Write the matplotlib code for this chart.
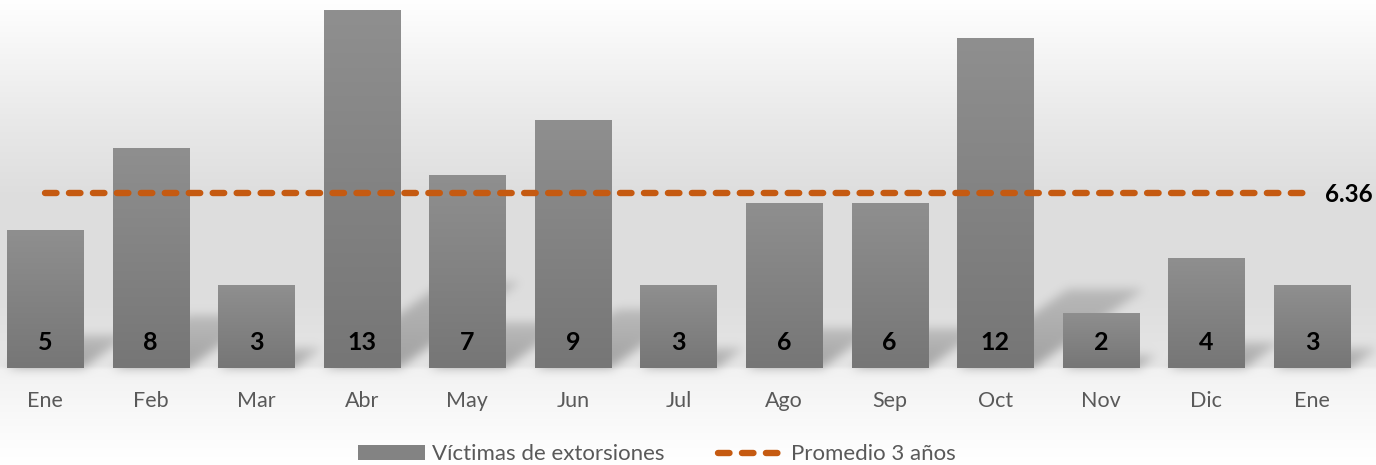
import numpy as np
import matplotlib
matplotlib.use("Agg")
import matplotlib.pyplot as plt
from matplotlib.path import Path
from matplotlib.lines import Line2D
from matplotlib.patches import Patch
from matplotlib.colors import LinearSegmentedColormap

# fuente parecida a Calibri
plt.rcParams['font.family'] = ['Lato', 'DejaVu Sans']

meses = ["Ene", "Feb", "Mar", "Abr", "May", "Jun", "Jul", "Ago", "Sep", "Oct", "Nov", "Dic", "Ene"]
victimas = [5, 8, 3, 13, 7, 9, 3, 6, 6, 12, 2, 4, 3]
promedio = 6.36

NARANJA = '#c55a11'
GRIS_TXT = '#595959'
RAYAS = (1.8, 1.95)

W, H = 1376, 465
fig = plt.figure(figsize=(W / 100, H / 100), dpi=100)

# fondo a nivel de figura (degradado + sombras)
bg = fig.add_axes([0, 0, 1, 1])
bg.set_axis_off()

ax = fig.add_axes([0, 97 / H, 1, 368 / H])
ax.set_facecolor('none')
for s in ax.spines.values():
    s.set_visible(False)

x = np.arange(len(meses))
bars = ax.bar(x, victimas, width=0.72, color='none', zorder=2)

# degradado de cada barra
grad = np.linspace(0, 1, 256).reshape(-1, 1)
cmap_barra = LinearSegmentedColormap.from_list('barra', ['#767676', '#8f8f8f'])
for b in bars:
    x0, y0 = b.get_xy()
    im = ax.imshow(grad, cmap=cmap_barra, origin='lower', aspect='auto',
                   extent=(x0, x0 + b.get_width(), y0, y0 + b.get_height()),
                   interpolation='bilinear', zorder=2)
    im.set_clip_path(b)

ax.set_xlim(-0.426, 12.606)
ax.set_ylim(0, 13.38)
ax.set_yticks([])
ax.set_xticks([])

# linea de promedio
ax.plot([x[0], x[-1]], [promedio, promedio], color=NARANJA, lw=4.6,
        dashes=RAYAS, dash_capstyle='round', zorder=3)
ax.annotate(f"{promedio:.2f}", (x[-1], promedio), xytext=(13, -9),
            textcoords='offset pixels', ha='left', va='baseline',
            fontsize=17.5, fontweight='bold', color='black')

# etiquetas de valores
for xi, v in zip(x, victimas):
    ax.text(xi, 0.65, str(v), ha='center', va='baseline', fontsize=18,
            fontweight='bold', color='black', zorder=4)

# etiquetas del eje x
for xi, m in zip(x, meses):
    ax.text(xi, -39 / 368, m, ha='center', va='baseline', fontsize=15.5,
            color=GRIS_TXT, transform=ax.get_xaxis_transform())

# ---- fondo: degradado vertical y sombras en perspectiva ----
fila = np.arange(H) + 0.5  # desde arriba
gris = np.interp(fila, [0, 120, 200, 300, 366, 370, 440, 465],
                 [255, 233, 221, 222, 230, 242, 252, 255]) / 255.0
gris = np.repeat(gris[::-1, None], W, axis=1)  # origen abajo

yy, xx = np.mgrid[0:H, 0:W] + 0.5
pts = np.column_stack([xx.ravel(), yy.ravel()])
alfa = np.zeros(H * W)
for b in bars:
    px0, pyb = ax.transData.transform((b.get_x(), 0))
    px1, pyt = ax.transData.transform((b.get_x() + b.get_width(), b.get_height()))
    s = 0.24 * (pyt - pyb)
    dx = 1.4 * s
    poly = Path([(px0, pyb), (px1, pyb), (px1 + dx, pyb + s), (px0 + dx, pyb + s), (px0, pyb)])
    dentro = poly.contains_points(pts)
    t = np.clip((pts[:, 1] - pyb) / max(s, 1), 0, 1)
    alfa = np.maximum(alfa, dentro * 0.30 * (1 - 0.45 * t))
alfa = alfa.reshape(H, W)


def desenfocar(a, sigma):
    r = int(3 * sigma)
    k = np.exp(-0.5 * (np.arange(-r, r + 1) / sigma) ** 2)
    k /= k.sum()
    a = np.apply_along_axis(lambda v: np.convolve(v, k, mode='same'), 0, a)
    a = np.apply_along_axis(lambda v: np.convolve(v, k, mode='same'), 1, a)
    return a


alfa = desenfocar(alfa, 5)
fondo = gris * (1 - alfa)
bg.imshow(np.dstack([fondo] * 3), origin='lower', extent=(0, W, 0, H),
          aspect='auto', interpolation='nearest')
bg.set_xlim(0, W)
bg.set_ylim(0, H)

# leyenda
fig.legend(handles=[Patch(facecolor='#838383', label='Víctimas de extorsiones'),
                    Line2D([], [], color=NARANJA, lw=4.6, dashes=RAYAS,
                           dash_capstyle='round', label='Promedio 3 años')],
           loc='center', bbox_to_anchor=(0.4775, 0.023), ncol=2, frameon=False,
           fontsize=16, labelcolor=GRIS_TXT, handlelength=3.0, handletextpad=0.32,
           columnspacing=2.4)

fig.savefig('out.png', dpi=100)
